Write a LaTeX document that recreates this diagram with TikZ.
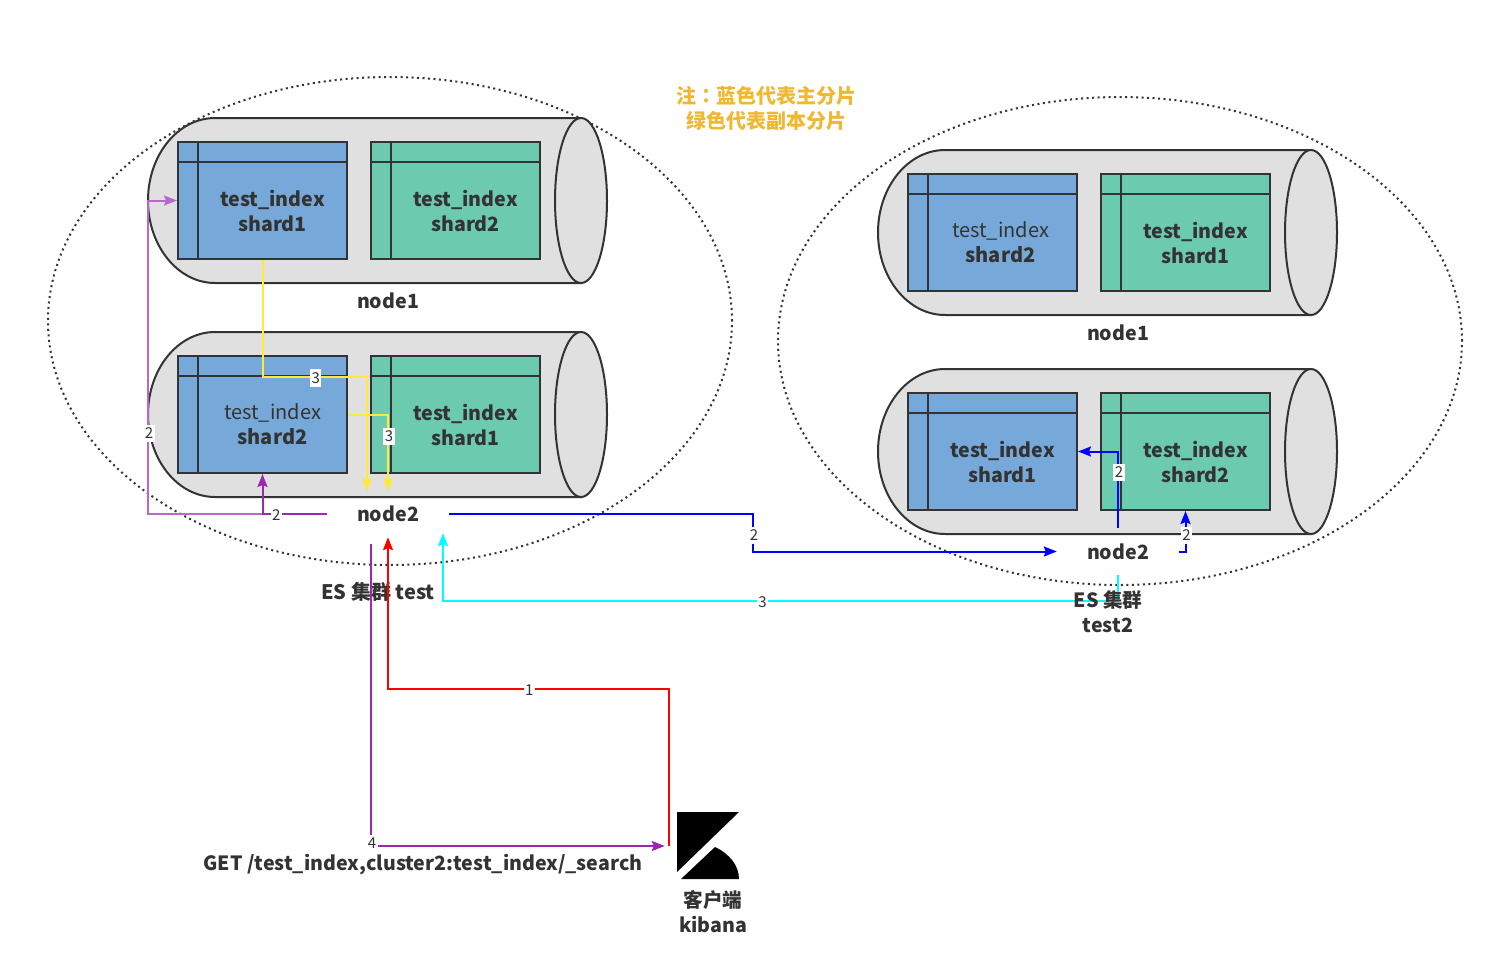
\documentclass[tikz,border=0pt]{standalone}
\usepackage{fontspec}
\setmainfont{Noto Sans CJK SC}
\newfontfamily\colonfont{Noto Sans CJK TC}
\usepackage{xcolor}
\usetikzlibrary{shapes.geometric, arrows.meta, positioning, calc}
\definecolor{inkgray}{HTML}{333333}
\definecolor{drumgray}{HTML}{E0E0E0}
\definecolor{primaryblue}{HTML}{76A9D9}
\definecolor{replicagreen}{HTML}{6CCBAE}
\definecolor{notegold}{HTML}{F0B731}
\definecolor{hotyellow}{HTML}{FFE93B}
\definecolor{darkpurple}{HTML}{9C27B0}
\definecolor{lightpurple}{HTML}{BA68C8}
\definecolor{hotcyan}{HTML}{00FFFF}
\definecolor{hotblue}{HTML}{0000FF}
\definecolor{hotred}{HTML}{FF0000}
\tikzstyle{shard} = [rectangle, minimum width=169pt, minimum height=117pt, inner sep=0pt, draw=inkgray, line width=2pt, path picture={\draw [inkgray, line width=2pt] ([xshift=20pt]path picture bounding box.north west) -- ([xshift=20pt]path picture bounding box.south west); \draw [inkgray, line width=2pt] ([yshift=-20pt]path picture bounding box.north west) -- ([yshift=-20pt]path picture bounding box.north east);}]
\tikzstyle{shardblue} = [shard, fill=primaryblue]
\tikzstyle{shardgreen} = [shard, fill=replicagreen]
\tikzstyle{thintext} = [text=inkgray, align=center, font=\fontsize{20}{25}\selectfont]
\tikzstyle{title} = [text=inkgray, align=center, font=\fontsize{19.6}{25}\selectfont\bfseries]
\tikzstyle{hostnode} = [title, minimum width=122pt, minimum height=46pt, inner sep=0pt]
\tikzstyle{cluster} = [ellipse, minimum width=684pt, minimum height=488pt, inner sep=0pt, draw=inkgray, line width=2pt, dash pattern=on 2pt off 3.5pt]
\tikzstyle{arrow} = [line width=2pt,-{Stealth[length=13pt,width=10pt,inset=2pt]}]
\tikzstyle{steplabel} = [fill=white, text=inkgray, inner xsep=1.5pt, inner ysep=3pt, xshift=1pt, yshift=-1pt, font=\fontsize{15}{16}\selectfont]
\tikzset{
  drum/.pic={
    \draw [inkgray, fill=drumgray, line width=2pt] (433,-82.5) -- (67,-82.5) .. controls (30,-82.5) and (0,-45.6) .. (0,0) .. controls (0,45.6) and (30,82.5) .. (67,82.5) -- (433,82.5) -- cycle;
    \draw [inkgray, fill=drumgray, line width=2pt] (433,0) ellipse [x radius=26, y radius=82.5];
  }
}

\begin{document}
\begin{tikzpicture}[x=1pt, y=-1pt, node distance=214pt]
    \useasboundingbox (0,0) rectangle (1494,964);

    \node (left) [cluster] at (390,321) {};
    \node (right) [cluster] at (1120,341) {};

    \pic at (148,200.5) {drum};
    \pic at (148,414.5) {drum};
    \pic at (878,232.5) {drum};
    \pic at (878,451.5) {drum};

    \node (a1) [shardblue] at (262.5,200.5) {};
    \node (b1) [shardgreen, right of=a1, xshift=-21pt] {};
    \node (a2) [shardblue, below of=a1] {};
    \node (b2) [shardgreen, right of=a2, xshift=-21pt] {};
    \node (c1) [shardblue] at (992.5,232.5) {};
    \node (d1) [shardgreen, right of=c1, xshift=-21pt] {};
    \node (c2) [shardblue, below of=c1, yshift=-5pt] {};
    \node (d2) [shardgreen, right of=c2, xshift=-21pt] {};

    \node (a1text) [title] at ([xshift=10pt,yshift=-10pt]a1) {test\_index\\shard1};
    \node (b1text) [title] at ([xshift=10pt,yshift=-10pt]b1) {test\_index\\shard2};
    \node (a2text) [thintext] at ([xshift=10pt,yshift=-10pt]a2) {test\_index\\\textbf{shard2}};
    \node (b2text) [title] at ([xshift=10pt,yshift=-10pt]b2) {test\_index\\shard1};
    \node (c1text) [thintext] at ([xshift=8pt,yshift=-10pt]c1) {test\_index\\\textbf{shard2}};
    \node (d1text) [title] at ([xshift=10pt,yshift=-10pt]d1) {test\_index\\shard1};
    \node (c2text) [title] at ([xshift=10pt,yshift=-10pt]c2) {test\_index\\shard1};
    \node (d2text) [title] at ([xshift=10pt,yshift=-10pt]d2) {test\_index\\shard2};

    \node (host1) [title] at (388,301) {node1};
    \node (n2) [hostnode] at (388,514) {\raisebox{-2pt}{node2}};
    \node (host3) [title] at (1118,333) {node1};
    \node (m2) [hostnode] at (1118,551.5) {node2};
    \node (es1) [title, font=\fontsize{20}{25}\selectfont\bfseries] at (378,592) {ES 集群 test};
    \node (note) [title, text=notegold, font=\fontsize{20}{25}\selectfont\bfseries] at (766,108) {注{\colonfont：}蓝色代表主分片\\绿色代表副本分片};
    \node (get) [title] at (423,865) {GET /test\_index,cluster2:test\_index/\_search};
    \node (kibana) [minimum width=78pt, minimum height=68pt, inner sep=0pt] at (708,846) {};
    \node (client) [title] at (713,912) {客户端\\kibana};
    \fill (677,812) -- (739,812) -- (677,872) -- cycle;
    \fill (681,879) -- (715,847) .. controls (730,854) and (739,866) .. (739,879) -- cycle;

    \coordinate (p1) at (148,200.5);
    \coordinate (y1) at (367,377);
    \coordinate (b3) at (753,551.5);
    \coordinate (k1) at (1118,601);
    \coordinate (r1) at (388,689);

    \draw [arrow, lightpurple] (n2.west) -| (p1) node [steplabel, pos=0.63] {2} -- (a1.west);
    \draw [arrow, darkpurple] (n2.west) -| (a2.south) node [steplabel, pos=0.4] {2};
    \draw [arrow, hotyellow] (a1.south) |- (y1) node [steplabel, pos=0.75] {3} -- ([xshift=-21pt]n2.north);
    \draw [arrow, hotyellow] (a2.east) -| (n2.north) node [steplabel, pos=0.635] {3};
    \draw [arrow, hotblue] (n2.east) -| (b3) node [steplabel, pos=0.77] {2} -- (m2.west);
    \draw [arrow, hotblue] (m2.north) |- (c2.east) node [steplabel, pos=0.37] {2};
    \draw [arrow, hotblue] (m2.east) -| (d2.south) node [steplabel, pos=0.71] {2};
    \draw [arrow, hotcyan] (m2.south) -- (k1) -| ([xshift=55pt, yshift=4pt]n2.south) node [steplabel, pos=0.264] {3};
    \draw [arrow, hotred] (kibana.west) |- (r1) node [steplabel, pos=0.75] {1} -- (n2.south);
    \draw [arrow, darkpurple, shorten <=7pt, shorten >=4pt] ([xshift=-17pt]n2.south) |- (kibana.west) node [steplabel, pos=0.5, yshift=4pt] {4};

    \node (es2) [title] at (1108,612) {ES 集群\\test2};
\end{tikzpicture}
\end{document}
